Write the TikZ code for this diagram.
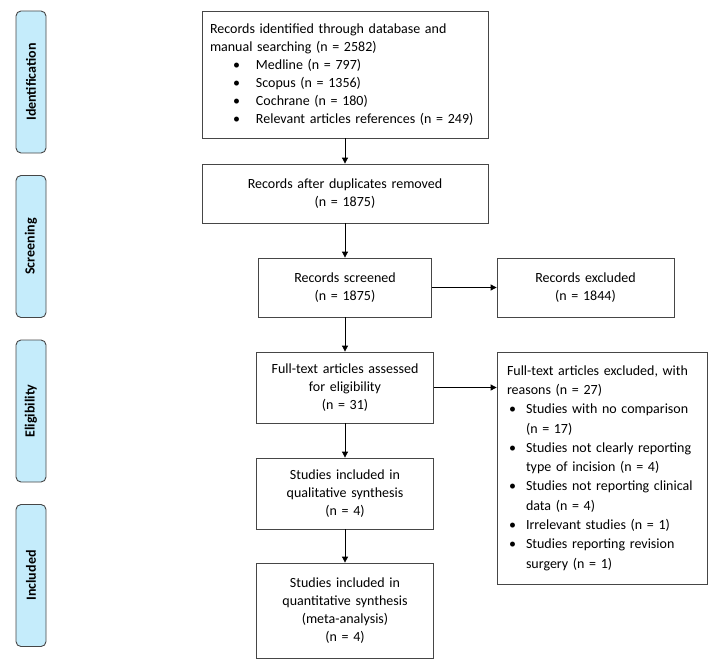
\documentclass[tikz,border=0pt]{standalone}
\usepackage{fontspec}
\setmainfont{Carlito}
\usetikzlibrary{arrows.meta}
\definecolor{phase}{RGB}{197,236,251}
\definecolor{edge}{RGB}{70,70,70}
\newcommand{\bl}{\hspace*{23pt}\makebox[23pt][l]{\textbullet}}
\newcommand{\bk}{\hspace*{2pt}\makebox[17pt][l]{\textbullet}}
\newcommand{\bi}{\hspace*{19pt}}
\begin{document}
\begin{tikzpicture}[x=1pt,y=-1pt,
    font=\fontsize{14}{18}\selectfont,
    box/.style={draw=edge, line width=0.8pt, inner xsep=8pt, inner ysep=0pt, align=center},
    phasebox/.style={draw=edge, line width=0.9pt, fill=phase, rounded corners=5pt,
        minimum width=30pt, minimum height=142pt, inner sep=0pt},
    phaselabel/.style={rotate=90, font=\fontsize{14}{18}\selectfont\bfseries},
    arr/.style={-{Triangle[width=6pt,length=6pt]}, line width=0.8pt}]
    \useasboundingbox (0,0) rectangle (719,669);
    % Phases
        \node[phasebox] (pid) at (31,82) {};
        \node[phaselabel] at (pid) {Identification};
        \node[phasebox] (psc) at (31,246.5) {};
        \node[phaselabel] at (psc) {Screening};
        \node[phasebox] (pel) at (31,411) {};
        \node[phaselabel] at (pel) {Eligibility};
        \node[phasebox] (pin) at (31,575.5) {};
        \node[phaselabel] at (pin) {Included};
    % Records
        \node[box, text width=270pt, minimum height=127pt, align=left] (ident) at (345,74.5)
            {Records identified through database and\\
             manual searching (n = 2582)\\
             \bl Medline (n = 797)\\
             \bl Scopus (n = 1356)\\
             \bl Cochrane (n = 180)\\
             \bl Relevant articles references (n = 249)};
        \node[box, text width=270pt, minimum height=59pt] (dup) at (345,193.5)
            {Records after duplicates removed\\ (n = 1875)};
        \node[box, text width=157pt, minimum height=59pt] (screen) at (345,287.5)
            {Records screened\\ (n = 1875)};
        \node[box, text width=161pt, minimum height=59pt] (excl) at (585.5,287.5)
            {Records excluded\\ (n = 1844)};
    % Studies
        \node[box, text width=161pt, minimum height=71pt] (full) at (345,387.5)
            {Full-text articles assessed\\ for eligibility\\ (n = 31)};
        \node[box, text width=161pt, minimum height=71pt] (qual) at (345,493.5)
            {Studies included in\\ qualitative synthesis\\ (n = 4)};
        \node[box, text width=161pt, minimum height=95pt] (quant) at (345,610.5)
            {Studies included in\\ quantitative synthesis\\ (meta-analysis)\\ (n = 4)};
        \node[box, text width=190pt, inner xsep=10pt, minimum height=232pt, align=left,
              font=\fontsize{14}{19.3}\selectfont] (ftexcl) at (602,468)
            {Full-text articles excluded, with\\
             reasons (n = 27)\\
             \bk Studies with no comparison\\
             \bi (n = 17)\\
             \bk Studies not clearly reporting\\
             \bi type of incision (n = 4)\\
             \bk Studies not reporting clinical\\
             \bi data (n = 4)\\
             \bk Irrelevant studies (n = 1)\\
             \bk Studies reporting revision\\
             \bi surgery (n = 1)};
    % Flow
        \draw[arr] (ident) -- (dup);
        \draw[arr] (dup) -- (screen);
        \draw[arr] (screen) -- (excl);
        \draw[arr] (screen) -- (full);
        \draw[arr] (full) -- (ftexcl.west |- full);
        \draw[arr] (full) -- (qual);
        \draw[arr] (qual) -- (quant);
\end{tikzpicture}
\end{document}
